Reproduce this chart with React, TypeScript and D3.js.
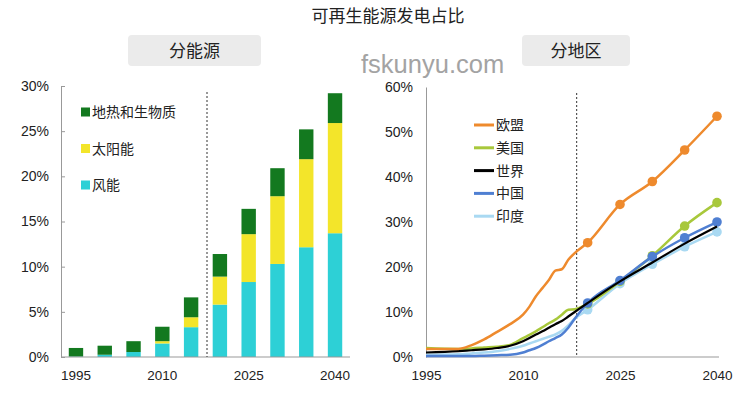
import { useEffect, useRef } from 'react'
import * as d3 from 'd3'

// left panel: share by source (%)
const barYears = ['1995', '2000', '2005', '2010', '2015', '2020', '2025', '2030', '2035', '2040']
const windVals = [0.05, 0.25, 0.55, 1.5, 3.3, 5.8, 8.3, 10.3, 12.15, 13.7]
const solarVals = [0, 0, 0, 0.25, 1.1, 3.1, 5.3, 7.5, 9.75, 12.2]
const geoBioVals = [0.95, 1.0, 1.2, 1.6, 2.2, 2.5, 2.8, 3.1, 3.3, 3.3]
const barTickLabels = ['1995', '2010', '2025', '2040']
const barYTicks = [0, 5, 10, 15, 20, 25, 30]

// right panel: share by region (%)
const lineYears = [1995, 2000, 2002, 2004, 2006, 2008, 2010, 2011, 2012, 2013, 2014, 2015, 2016, 2017, 2018, 2020, 2025, 2030, 2035, 2040]
const euVals = [1.8, 1.8, 2.6, 3.9, 5.6, 7.3, 9.4, 11.2, 13.5, 15.3, 17.1, 19.2, 19.5, 21.6, 23.1, 25.4, 33.9, 39.0, 46.0, 53.5]
const usVals = [2.0, 1.8, 1.9, 2.1, 2.3, 2.7, 4.2, 4.9, 5.7, 6.6, 7.5, 8.3, 9.4, 10.5, 10.6, 11.8, 16.8, 22.5, 29.1, 34.3]
const worldVals = [1.0, 1.3, 1.5, 1.7, 2.0, 2.5, 3.5, 4.2, 5.0, 5.7, 6.5, 7.3, 8.0, 9.0, 10.0, 12.0, 16.8, 21.0, 25.2, 29.0]
const chinaVals = [0.2, 0.2, 0.2, 0.3, 0.4, 0.5, 1.0, 1.5, 2.0, 2.7, 3.5, 4.2, 5.0, 6.5, 8.5, 12.0, 17.0, 22.3, 26.5, 30.0]
const indiaVals = [0.5, 0.6, 0.8, 1.0, 1.3, 1.8, 2.5, 3.0, 3.5, 4.0, 4.5, 5.0, 5.8, 7.0, 8.5, 10.5, 16.3, 20.6, 24.5, 27.8]
const lineTickYears = [1995, 2010, 2025, 2040]
const lineYTicks = [0, 10, 20, 30, 40, 50, 60]
const markerFrom = 2020
const forecastYear = 2018.3

const W = 748
const H = 399
const CJK = '"Noto Sans CJK SC", "Noto Sans", sans-serif'
const NUM = '"Liberation Sans", Arial, sans-serif'

function App() {
  const ref = useRef<SVGSVGElement | null>(null)

  useEffect(() => {
    const svg = d3.select(ref.current)
    svg.selectAll('*').remove()
    svg.append('rect').attr('width', W).attr('height', H).attr('fill', '#fff')

    svg.append('text').attr('x', 388).attr('y', 22).attr('text-anchor', 'middle')
      .attr('font-family', CJK).attr('font-size', 17).attr('fill', '#222').text('可再生能源发电占比')

    const header = (x: number, w: number, label: string) => {
      svg.append('rect').attr('x', x).attr('y', 35).attr('width', w).attr('height', 31)
        .attr('rx', 4).attr('fill', '#ebebeb')
      svg.append('text').attr('x', x + w / 2).attr('y', 57).attr('text-anchor', 'middle')
        .attr('font-family', CJK).attr('font-size', 17).attr('fill', '#222').text(label)
    }
    header(128, 133, '分能源')
    header(522, 108, '分地区')

    svg.append('text').attr('x', 361).attr('y', 73).attr('font-family', NUM)
      .attr('font-size', 25.5).attr('fill', '#a3a3a3').text('fskunyu.com')

    // ---- left: stacked bars
    const bx = d3.scaleBand<string>().domain(barYears).range([61, 350]).paddingInner(0.5).paddingOuter(0.27)
    const by = d3.scaleLinear().domain([0, 30]).range([357, 86])
    const barRows = barYears.map((y, i) => ({ year: y, wind: windVals[i], solar: solarVals[i], geo: geoBioVals[i] }))
    const keys = ['wind', 'solar', 'geo']
    const barColors: Record<string, string> = { wind: '#2dd0d6', solar: '#f3e52a', geo: '#13791f' }
    const stacked = d3.stack<any>().keys(keys)(barRows)

    const left = svg.append('g')
    stacked.forEach((layer) => {
      left.append('g').attr('fill', barColors[layer.key]).selectAll('rect').data(layer).join('rect')
        .attr('x', (d: any) => bx(d.data.year)!)
        .attr('width', bx.bandwidth())
        .attr('y', (d: any) => by(d[1]))
        .attr('height', (d: any) => by(d[0]) - by(d[1]))
    })

    const yAxisL = left.append('g').attr('transform', 'translate(61,0)')
      .call(d3.axisLeft(by).tickValues(barYTicks).tickFormat((d) => `${d}%`).tickSize(-4).tickPadding(12))
    yAxisL.select('.domain').attr('stroke', '#999')
    yAxisL.selectAll('line').attr('stroke', '#999')
    yAxisL.selectAll('text').attr('font-family', NUM).attr('font-size', 14).attr('fill', '#222')

    const xAxisL = left.append('g').attr('transform', 'translate(0,357)')
      .call(d3.axisBottom(bx).tickValues(barTickLabels).tickSize(0).tickPadding(13))
    xAxisL.select('.domain').attr('stroke', '#999').attr('d', 'M61,0H350')
    xAxisL.selectAll('text').attr('font-family', NUM).attr('font-size', 13.5).attr('fill', '#222')

    const midL = (bx('2015')! + bx('2020')! + bx.bandwidth()) / 2 + 1.5
    left.append('line').attr('x1', midL).attr('x2', midL).attr('y1', 92).attr('y2', 357)
      .attr('stroke', '#333').attr('stroke-dasharray', '2,2')

    const legL = [
      { key: 'geo', label: '地热和生物质' },
      { key: 'solar', label: '太阳能' },
      { key: 'wind', label: '风能' },
    ]
    legL.forEach((d, i) => {
      const cy = 112 + i * 36.5
      left.append('rect').attr('x', 81).attr('y', cy - 4.5).attr('width', 9).attr('height', 9).attr('fill', barColors[d.key])
      left.append('text').attr('x', 92).attr('y', cy + 5).attr('font-family', CJK).attr('font-size', 14)
        .attr('fill', '#222').text(d.label)
    })

    // ---- right: lines
    const lx = d3.scaleLinear().domain([1995, 2040]).range([426, 717])
    const ly = d3.scaleLinear().domain([0, 60]).range([357, 87])
    const right = svg.append('g')

    const yAxisR = right.append('g').attr('transform', 'translate(426,0)')
      .call(d3.axisLeft(ly).tickValues(lineYTicks).tickFormat((d) => `${d}%`).tickSize(0).tickPadding(13))
    yAxisR.select('.domain').attr('stroke', '#999')
    yAxisR.selectAll('text').attr('font-family', NUM).attr('font-size', 14).attr('fill', '#222')

    const xAxisR = right.append('g').attr('transform', 'translate(0,357)')
      .call(d3.axisBottom(lx).tickValues(lineTickYears).tickFormat(d3.format('d')).tickSize(0).tickPadding(13))
    xAxisR.select('.domain').attr('stroke', '#999').attr('d', 'M426,0H719')
    xAxisR.selectAll('text').attr('font-family', NUM).attr('font-size', 13.5).attr('fill', '#222')

    right.append('line').attr('x1', lx(forecastYear)).attr('x2', lx(forecastYear)).attr('y1', 93).attr('y2', 357)
      .attr('stroke', '#333').attr('stroke-dasharray', '2,2')

    const series = [
      { name: '欧盟', vals: euVals, color: '#ee8a2d', markers: true },
      { name: '美国', vals: usVals, color: '#a8c83b', markers: true },
      { name: '世界', vals: worldVals, color: '#000000', markers: false },
      { name: '中国', vals: chinaVals, color: '#4f7fd2', markers: true },
      { name: '印度', vals: indiaVals, color: '#a9d9f2', markers: true },
    ]
    const drawOrder = [4, 1, 3, 2, 0]
    const line = d3.line<number>().x((_, i) => lx(lineYears[i])).y((d) => ly(d)).curve(d3.curveMonotoneX)
    drawOrder.forEach((si) => {
      const s = series[si]
      right.append('path').attr('d', line(s.vals)).attr('fill', 'none').attr('stroke', s.color)
        .attr('stroke-width', si === 2 ? 2.2 : 2.5)
      if (s.markers) {
        right.append('g').attr('fill', s.color).selectAll('circle')
          .data(s.vals.map((v, i) => ({ v, yr: lineYears[i] })).filter((d) => d.yr >= markerFrom))
          .join('circle').attr('cx', (d) => lx(d.yr)).attr('cy', (d) => ly(d.v)).attr('r', 4.8)
      }
    })

    series.forEach((s, i) => {
      const cy = 125 + i * 22.8
      right.append('line').attr('x1', 474).attr('x2', 494).attr('y1', cy).attr('y2', cy)
        .attr('stroke', s.color).attr('stroke-width', 3)
      right.append('text').attr('x', 496).attr('y', cy + 5).attr('font-family', CJK).attr('font-size', 14)
        .attr('fill', '#222').text(s.name)
    })
  }, [])

  return (
    <svg ref={ref} width={W} height={H} viewBox={`0 0 ${W} ${H}`}
      style={{ position: 'absolute', left: 0, top: 0, display: 'block' }} />
  )
}

export default App
